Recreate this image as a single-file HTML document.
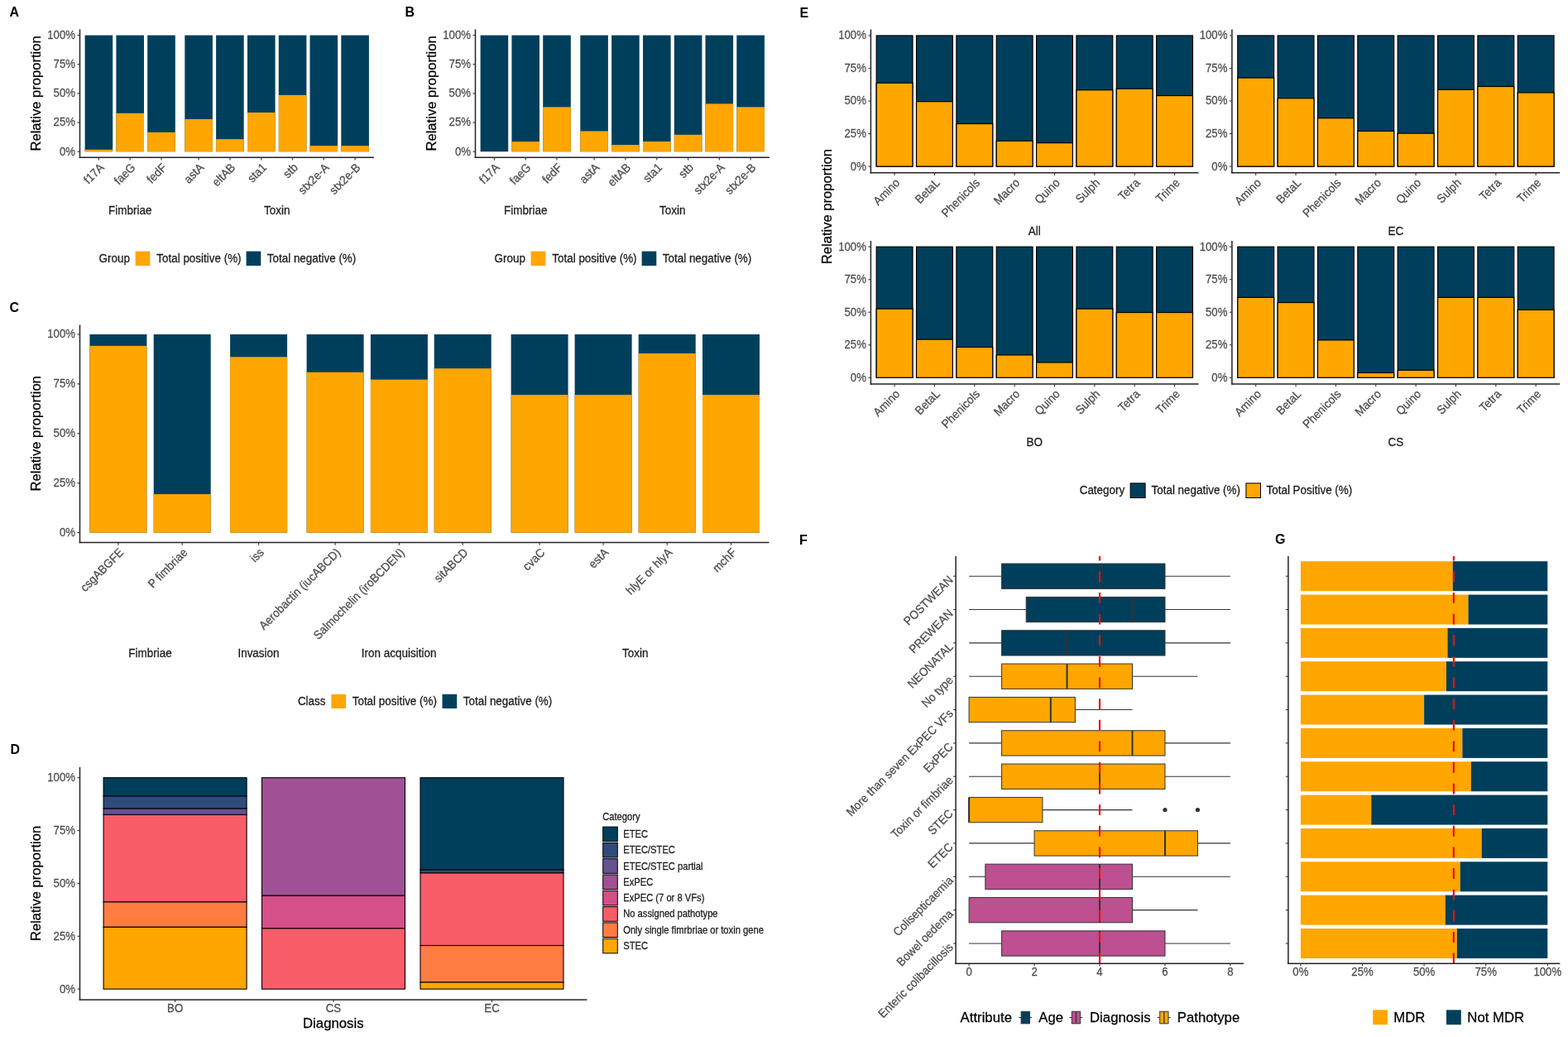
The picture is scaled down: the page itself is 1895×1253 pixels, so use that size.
<!DOCTYPE html>
<html><head><meta charset="utf-8"><title>Figure</title>
<style>
html,body{margin:0;padding:0;background:#fff;}
body{width:1895px;height:1253px;overflow:hidden;}
svg{display:block;font-family:"Liberation Sans", Arial, sans-serif;}
</style></head>
<body>
<svg width="1895" height="1253" viewBox="0 0 1895 1253">
<rect x="0" y="0" width="1895" height="1253" fill="#fff"/>
<text transform="translate(11.4 20.3) scale(1 1.08)" font-size="16" fill="#000" font-weight="bold">A</text>
<rect x="102.6" y="42.6" width="33.6" height="140.6" fill="#003f5c"/>
<rect x="102.6" y="180.81" width="33.6" height="2.39" fill="#ffa600"/>
<rect x="140.4" y="42.6" width="33.6" height="140.6" fill="#003f5c"/>
<rect x="140.4" y="136.8" width="33.6" height="46.4" fill="#ffa600"/>
<rect x="178.2" y="42.6" width="33.6" height="140.6" fill="#003f5c"/>
<rect x="178.2" y="159.86" width="33.6" height="23.34" fill="#ffa600"/>
<rect x="223.3" y="42.6" width="33.6" height="140.6" fill="#003f5c"/>
<rect x="223.3" y="143.97" width="33.6" height="39.23" fill="#ffa600"/>
<rect x="261.1" y="42.6" width="33.6" height="140.6" fill="#003f5c"/>
<rect x="261.1" y="168.16" width="33.6" height="15.04" fill="#ffa600"/>
<rect x="299" y="42.6" width="33.6" height="140.6" fill="#003f5c"/>
<rect x="299" y="135.96" width="33.6" height="47.24" fill="#ffa600"/>
<rect x="336.8" y="42.6" width="33.6" height="140.6" fill="#003f5c"/>
<rect x="336.8" y="114.87" width="33.6" height="68.33" fill="#ffa600"/>
<rect x="374.5" y="42.6" width="33.6" height="140.6" fill="#003f5c"/>
<rect x="374.5" y="176.17" width="33.6" height="7.03" fill="#ffa600"/>
<rect x="412.3" y="42.6" width="33.6" height="140.6" fill="#003f5c"/>
<rect x="412.3" y="176.17" width="33.6" height="7.03" fill="#ffa600"/>
<line x1="96.5" y1="35.4" x2="96.5" y2="191.05" stroke="#222222" stroke-width="1.5" stroke-linecap="butt"/>
<line x1="93.5" y1="183.2" x2="96.5" y2="183.2" stroke="#333" stroke-width="1.1" stroke-linecap="butt"/>
<text transform="translate(91 187.6) scale(1 1.07)" font-size="13.2" fill="#4d4d4d" stroke="#4d4d4d" stroke-width="0.25" text-anchor="end">0%</text>
<line x1="93.5" y1="148.05" x2="96.5" y2="148.05" stroke="#333" stroke-width="1.1" stroke-linecap="butt"/>
<text transform="translate(91 152.45) scale(1 1.07)" font-size="13.2" fill="#4d4d4d" stroke="#4d4d4d" stroke-width="0.25" text-anchor="end">25%</text>
<line x1="93.5" y1="112.9" x2="96.5" y2="112.9" stroke="#333" stroke-width="1.1" stroke-linecap="butt"/>
<text transform="translate(91 117.3) scale(1 1.07)" font-size="13.2" fill="#4d4d4d" stroke="#4d4d4d" stroke-width="0.25" text-anchor="end">50%</text>
<line x1="93.5" y1="77.75" x2="96.5" y2="77.75" stroke="#333" stroke-width="1.1" stroke-linecap="butt"/>
<text transform="translate(91 82.15) scale(1 1.07)" font-size="13.2" fill="#4d4d4d" stroke="#4d4d4d" stroke-width="0.25" text-anchor="end">75%</text>
<line x1="93.5" y1="42.6" x2="96.5" y2="42.6" stroke="#333" stroke-width="1.1" stroke-linecap="butt"/>
<text transform="translate(91 47) scale(1 1.07)" font-size="13.2" fill="#4d4d4d" stroke="#4d4d4d" stroke-width="0.25" text-anchor="end">100%</text>
<line x1="95.75" y1="190.3" x2="451.9" y2="190.3" stroke="#222222" stroke-width="1.5" stroke-linecap="butt"/>
<line x1="119.4" y1="190.3" x2="119.4" y2="193.5" stroke="#333" stroke-width="1.1" stroke-linecap="butt"/>
<text transform="translate(126.65 203.3) rotate(-45) scale(1 1.07)" font-size="13.5" fill="#4d4d4d" stroke="#4d4d4d" stroke-width="0.25" text-anchor="end">f17A</text>
<line x1="157.2" y1="190.3" x2="157.2" y2="193.5" stroke="#333" stroke-width="1.1" stroke-linecap="butt"/>
<text transform="translate(164.45 203.3) rotate(-45) scale(1 1.07)" font-size="13.5" fill="#4d4d4d" stroke="#4d4d4d" stroke-width="0.25" text-anchor="end">faeG</text>
<line x1="195" y1="190.3" x2="195" y2="193.5" stroke="#333" stroke-width="1.1" stroke-linecap="butt"/>
<text transform="translate(202.25 203.3) rotate(-45) scale(1 1.07)" font-size="13.5" fill="#4d4d4d" stroke="#4d4d4d" stroke-width="0.25" text-anchor="end">fedF</text>
<line x1="240.1" y1="190.3" x2="240.1" y2="193.5" stroke="#333" stroke-width="1.1" stroke-linecap="butt"/>
<text transform="translate(247.35 203.3) rotate(-45) scale(1 1.07)" font-size="13.5" fill="#4d4d4d" stroke="#4d4d4d" stroke-width="0.25" text-anchor="end">astA</text>
<line x1="277.9" y1="190.3" x2="277.9" y2="193.5" stroke="#333" stroke-width="1.1" stroke-linecap="butt"/>
<text transform="translate(285.15 203.3) rotate(-45) scale(1 1.07)" font-size="13.5" fill="#4d4d4d" stroke="#4d4d4d" stroke-width="0.25" text-anchor="end">eltAB</text>
<line x1="315.8" y1="190.3" x2="315.8" y2="193.5" stroke="#333" stroke-width="1.1" stroke-linecap="butt"/>
<text transform="translate(323.05 203.3) rotate(-45) scale(1 1.07)" font-size="13.5" fill="#4d4d4d" stroke="#4d4d4d" stroke-width="0.25" text-anchor="end">sta1</text>
<line x1="353.6" y1="190.3" x2="353.6" y2="193.5" stroke="#333" stroke-width="1.1" stroke-linecap="butt"/>
<text transform="translate(360.85 203.3) rotate(-45) scale(1 1.07)" font-size="13.5" fill="#4d4d4d" stroke="#4d4d4d" stroke-width="0.25" text-anchor="end">stb</text>
<line x1="391.3" y1="190.3" x2="391.3" y2="193.5" stroke="#333" stroke-width="1.1" stroke-linecap="butt"/>
<text transform="translate(398.55 203.3) rotate(-45) scale(1 1.07)" font-size="13.5" fill="#4d4d4d" stroke="#4d4d4d" stroke-width="0.25" text-anchor="end">stx2e-A</text>
<line x1="429.1" y1="190.3" x2="429.1" y2="193.5" stroke="#333" stroke-width="1.1" stroke-linecap="butt"/>
<text transform="translate(436.35 203.3) rotate(-45) scale(1 1.07)" font-size="13.5" fill="#4d4d4d" stroke="#4d4d4d" stroke-width="0.25" text-anchor="end">stx2e-B</text>
<text transform="translate(157.2 259.3) scale(1 1.07)" font-size="13.5" fill="#1a1a1a" stroke="#1a1a1a" stroke-width="0.25" text-anchor="middle">Fimbriae</text>
<text transform="translate(334.7 259.3) scale(1 1.07)" font-size="13.5" fill="#1a1a1a" stroke="#1a1a1a" stroke-width="0.25" text-anchor="middle">Toxin</text>
<text transform="translate(49 112.9) rotate(-90)" font-size="16.6" fill="#000" stroke="#000" stroke-width="0.25" text-anchor="middle">Relative proportion</text>
<text transform="translate(119.6 316.9) scale(1 1.07)" font-size="13.45" fill="#1a1a1a" stroke="#1a1a1a" stroke-width="0.25">Group</text>
<rect x="163.6" y="303.6" width="17.7" height="17.5" fill="#ffa600"/>
<text transform="translate(189.3 316.9) scale(1 1.07)" font-size="13.45" fill="#1a1a1a" stroke="#1a1a1a" stroke-width="0.25">Total positive (%)</text>
<rect x="297.6" y="303.6" width="17.7" height="17.5" fill="#003f5c"/>
<text transform="translate(322.8 316.9) scale(1 1.07)" font-size="13.45" fill="#1a1a1a" stroke="#1a1a1a" stroke-width="0.25">Total negative (%)</text>
<text transform="translate(489.4 20.3) scale(1 1.08)" font-size="16" fill="#000" font-weight="bold">B</text>
<rect x="580.6" y="42.6" width="33.6" height="140.6" fill="#003f5c"/>
<rect x="580.6" y="183.2" width="33.6" height="0" fill="#ffa600"/>
<rect x="618.4" y="42.6" width="33.6" height="140.6" fill="#003f5c"/>
<rect x="618.4" y="171.11" width="33.6" height="12.09" fill="#ffa600"/>
<rect x="656.2" y="42.6" width="33.6" height="140.6" fill="#003f5c"/>
<rect x="656.2" y="129.35" width="33.6" height="53.85" fill="#ffa600"/>
<rect x="701.3" y="42.6" width="33.6" height="140.6" fill="#003f5c"/>
<rect x="701.3" y="158.45" width="33.6" height="24.75" fill="#ffa600"/>
<rect x="739.1" y="42.6" width="33.6" height="140.6" fill="#003f5c"/>
<rect x="739.1" y="175.05" width="33.6" height="8.15" fill="#ffa600"/>
<rect x="777" y="42.6" width="33.6" height="140.6" fill="#003f5c"/>
<rect x="777" y="170.97" width="33.6" height="12.23" fill="#ffa600"/>
<rect x="814.8" y="42.6" width="33.6" height="140.6" fill="#003f5c"/>
<rect x="814.8" y="162.81" width="33.6" height="20.39" fill="#ffa600"/>
<rect x="852.5" y="42.6" width="33.6" height="140.6" fill="#003f5c"/>
<rect x="852.5" y="125.41" width="33.6" height="57.79" fill="#ffa600"/>
<rect x="890.3" y="42.6" width="33.6" height="140.6" fill="#003f5c"/>
<rect x="890.3" y="129.35" width="33.6" height="53.85" fill="#ffa600"/>
<line x1="574.5" y1="35.4" x2="574.5" y2="191.05" stroke="#222222" stroke-width="1.5" stroke-linecap="butt"/>
<line x1="571.5" y1="183.2" x2="574.5" y2="183.2" stroke="#333" stroke-width="1.1" stroke-linecap="butt"/>
<text transform="translate(569 187.6) scale(1 1.07)" font-size="13.2" fill="#4d4d4d" stroke="#4d4d4d" stroke-width="0.25" text-anchor="end">0%</text>
<line x1="571.5" y1="148.05" x2="574.5" y2="148.05" stroke="#333" stroke-width="1.1" stroke-linecap="butt"/>
<text transform="translate(569 152.45) scale(1 1.07)" font-size="13.2" fill="#4d4d4d" stroke="#4d4d4d" stroke-width="0.25" text-anchor="end">25%</text>
<line x1="571.5" y1="112.9" x2="574.5" y2="112.9" stroke="#333" stroke-width="1.1" stroke-linecap="butt"/>
<text transform="translate(569 117.3) scale(1 1.07)" font-size="13.2" fill="#4d4d4d" stroke="#4d4d4d" stroke-width="0.25" text-anchor="end">50%</text>
<line x1="571.5" y1="77.75" x2="574.5" y2="77.75" stroke="#333" stroke-width="1.1" stroke-linecap="butt"/>
<text transform="translate(569 82.15) scale(1 1.07)" font-size="13.2" fill="#4d4d4d" stroke="#4d4d4d" stroke-width="0.25" text-anchor="end">75%</text>
<line x1="571.5" y1="42.6" x2="574.5" y2="42.6" stroke="#333" stroke-width="1.1" stroke-linecap="butt"/>
<text transform="translate(569 47) scale(1 1.07)" font-size="13.2" fill="#4d4d4d" stroke="#4d4d4d" stroke-width="0.25" text-anchor="end">100%</text>
<line x1="573.75" y1="190.3" x2="929.9" y2="190.3" stroke="#222222" stroke-width="1.5" stroke-linecap="butt"/>
<line x1="597.4" y1="190.3" x2="597.4" y2="193.5" stroke="#333" stroke-width="1.1" stroke-linecap="butt"/>
<text transform="translate(604.65 203.3) rotate(-45) scale(1 1.07)" font-size="13.5" fill="#4d4d4d" stroke="#4d4d4d" stroke-width="0.25" text-anchor="end">f17A</text>
<line x1="635.2" y1="190.3" x2="635.2" y2="193.5" stroke="#333" stroke-width="1.1" stroke-linecap="butt"/>
<text transform="translate(642.45 203.3) rotate(-45) scale(1 1.07)" font-size="13.5" fill="#4d4d4d" stroke="#4d4d4d" stroke-width="0.25" text-anchor="end">faeG</text>
<line x1="673" y1="190.3" x2="673" y2="193.5" stroke="#333" stroke-width="1.1" stroke-linecap="butt"/>
<text transform="translate(680.25 203.3) rotate(-45) scale(1 1.07)" font-size="13.5" fill="#4d4d4d" stroke="#4d4d4d" stroke-width="0.25" text-anchor="end">fedF</text>
<line x1="718.1" y1="190.3" x2="718.1" y2="193.5" stroke="#333" stroke-width="1.1" stroke-linecap="butt"/>
<text transform="translate(725.35 203.3) rotate(-45) scale(1 1.07)" font-size="13.5" fill="#4d4d4d" stroke="#4d4d4d" stroke-width="0.25" text-anchor="end">astA</text>
<line x1="755.9" y1="190.3" x2="755.9" y2="193.5" stroke="#333" stroke-width="1.1" stroke-linecap="butt"/>
<text transform="translate(763.15 203.3) rotate(-45) scale(1 1.07)" font-size="13.5" fill="#4d4d4d" stroke="#4d4d4d" stroke-width="0.25" text-anchor="end">eltAB</text>
<line x1="793.8" y1="190.3" x2="793.8" y2="193.5" stroke="#333" stroke-width="1.1" stroke-linecap="butt"/>
<text transform="translate(801.05 203.3) rotate(-45) scale(1 1.07)" font-size="13.5" fill="#4d4d4d" stroke="#4d4d4d" stroke-width="0.25" text-anchor="end">sta1</text>
<line x1="831.6" y1="190.3" x2="831.6" y2="193.5" stroke="#333" stroke-width="1.1" stroke-linecap="butt"/>
<text transform="translate(838.85 203.3) rotate(-45) scale(1 1.07)" font-size="13.5" fill="#4d4d4d" stroke="#4d4d4d" stroke-width="0.25" text-anchor="end">stb</text>
<line x1="869.3" y1="190.3" x2="869.3" y2="193.5" stroke="#333" stroke-width="1.1" stroke-linecap="butt"/>
<text transform="translate(876.55 203.3) rotate(-45) scale(1 1.07)" font-size="13.5" fill="#4d4d4d" stroke="#4d4d4d" stroke-width="0.25" text-anchor="end">stx2e-A</text>
<line x1="907.1" y1="190.3" x2="907.1" y2="193.5" stroke="#333" stroke-width="1.1" stroke-linecap="butt"/>
<text transform="translate(914.35 203.3) rotate(-45) scale(1 1.07)" font-size="13.5" fill="#4d4d4d" stroke="#4d4d4d" stroke-width="0.25" text-anchor="end">stx2e-B</text>
<text transform="translate(635.2 259.3) scale(1 1.07)" font-size="13.5" fill="#1a1a1a" stroke="#1a1a1a" stroke-width="0.25" text-anchor="middle">Fimbriae</text>
<text transform="translate(812.7 259.3) scale(1 1.07)" font-size="13.5" fill="#1a1a1a" stroke="#1a1a1a" stroke-width="0.25" text-anchor="middle">Toxin</text>
<text transform="translate(527 112.9) rotate(-90)" font-size="16.6" fill="#000" stroke="#000" stroke-width="0.25" text-anchor="middle">Relative proportion</text>
<text transform="translate(597.6 316.9) scale(1 1.07)" font-size="13.45" fill="#1a1a1a" stroke="#1a1a1a" stroke-width="0.25">Group</text>
<rect x="641.6" y="303.6" width="17.7" height="17.5" fill="#ffa600"/>
<text transform="translate(667.3 316.9) scale(1 1.07)" font-size="13.45" fill="#1a1a1a" stroke="#1a1a1a" stroke-width="0.25">Total positive (%)</text>
<rect x="775.6" y="303.6" width="17.7" height="17.5" fill="#003f5c"/>
<text transform="translate(800.8 316.9) scale(1 1.07)" font-size="13.45" fill="#1a1a1a" stroke="#1a1a1a" stroke-width="0.25">Total negative (%)</text>
<text transform="translate(11.6 377) scale(1 1.08)" font-size="16" fill="#000" font-weight="bold">C</text>
<rect x="108.4" y="404" width="69" height="239.6" fill="#003f5c"/>
<rect x="108.4" y="417.9" width="69" height="225.7" fill="#ffa600"/>
<rect x="185.7" y="404" width="69" height="239.6" fill="#003f5c"/>
<rect x="185.7" y="597.12" width="69" height="46.48" fill="#ffa600"/>
<rect x="278.1" y="404" width="69" height="239.6" fill="#003f5c"/>
<rect x="278.1" y="431.31" width="69" height="212.29" fill="#ffa600"/>
<rect x="370.6" y="404" width="69" height="239.6" fill="#003f5c"/>
<rect x="370.6" y="449.76" width="69" height="193.84" fill="#ffa600"/>
<rect x="447.9" y="404" width="69" height="239.6" fill="#003f5c"/>
<rect x="447.9" y="458.63" width="69" height="184.97" fill="#ffa600"/>
<rect x="524.7" y="404" width="69" height="239.6" fill="#003f5c"/>
<rect x="524.7" y="445.21" width="69" height="198.39" fill="#ffa600"/>
<rect x="617.6" y="404" width="69" height="239.6" fill="#003f5c"/>
<rect x="617.6" y="477.08" width="69" height="166.52" fill="#ffa600"/>
<rect x="694.6" y="404" width="69" height="239.6" fill="#003f5c"/>
<rect x="694.6" y="477.08" width="69" height="166.52" fill="#ffa600"/>
<rect x="771.7" y="404" width="69" height="239.6" fill="#003f5c"/>
<rect x="771.7" y="427" width="69" height="216.6" fill="#ffa600"/>
<rect x="849" y="404" width="69" height="239.6" fill="#003f5c"/>
<rect x="849" y="477.08" width="69" height="166.52" fill="#ffa600"/>
<line x1="96.5" y1="392.6" x2="96.5" y2="656.25" stroke="#222222" stroke-width="1.5" stroke-linecap="butt"/>
<line x1="93.5" y1="643.6" x2="96.5" y2="643.6" stroke="#333" stroke-width="1.1" stroke-linecap="butt"/>
<text transform="translate(91 648) scale(1 1.07)" font-size="13.2" fill="#4d4d4d" stroke="#4d4d4d" stroke-width="0.25" text-anchor="end">0%</text>
<line x1="93.5" y1="583.7" x2="96.5" y2="583.7" stroke="#333" stroke-width="1.1" stroke-linecap="butt"/>
<text transform="translate(91 588.1) scale(1 1.07)" font-size="13.2" fill="#4d4d4d" stroke="#4d4d4d" stroke-width="0.25" text-anchor="end">25%</text>
<line x1="93.5" y1="523.8" x2="96.5" y2="523.8" stroke="#333" stroke-width="1.1" stroke-linecap="butt"/>
<text transform="translate(91 528.2) scale(1 1.07)" font-size="13.2" fill="#4d4d4d" stroke="#4d4d4d" stroke-width="0.25" text-anchor="end">50%</text>
<line x1="93.5" y1="463.9" x2="96.5" y2="463.9" stroke="#333" stroke-width="1.1" stroke-linecap="butt"/>
<text transform="translate(91 468.3) scale(1 1.07)" font-size="13.2" fill="#4d4d4d" stroke="#4d4d4d" stroke-width="0.25" text-anchor="end">75%</text>
<line x1="93.5" y1="404" x2="96.5" y2="404" stroke="#333" stroke-width="1.1" stroke-linecap="butt"/>
<text transform="translate(91 408.4) scale(1 1.07)" font-size="13.2" fill="#4d4d4d" stroke="#4d4d4d" stroke-width="0.25" text-anchor="end">100%</text>
<line x1="95.75" y1="655.5" x2="929.5" y2="655.5" stroke="#222222" stroke-width="1.5" stroke-linecap="butt"/>
<line x1="142.9" y1="655.5" x2="142.9" y2="658.7" stroke="#333" stroke-width="1.1" stroke-linecap="butt"/>
<text transform="translate(150.15 668.5) rotate(-45) scale(1 1.07)" font-size="13.5" fill="#4d4d4d" stroke="#4d4d4d" stroke-width="0.25" text-anchor="end">csgABGFE</text>
<line x1="220.2" y1="655.5" x2="220.2" y2="658.7" stroke="#333" stroke-width="1.1" stroke-linecap="butt"/>
<text transform="translate(227.45 668.5) rotate(-45) scale(1 1.07)" font-size="13.5" fill="#4d4d4d" stroke="#4d4d4d" stroke-width="0.25" text-anchor="end">P fimbriae</text>
<line x1="312.6" y1="655.5" x2="312.6" y2="658.7" stroke="#333" stroke-width="1.1" stroke-linecap="butt"/>
<text transform="translate(319.85 668.5) rotate(-45) scale(1 1.07)" font-size="13.5" fill="#4d4d4d" stroke="#4d4d4d" stroke-width="0.25" text-anchor="end">iss</text>
<line x1="405.1" y1="655.5" x2="405.1" y2="658.7" stroke="#333" stroke-width="1.1" stroke-linecap="butt"/>
<text transform="translate(412.35 668.5) rotate(-45) scale(1 1.07)" font-size="13.5" fill="#4d4d4d" stroke="#4d4d4d" stroke-width="0.25" text-anchor="end">Aerobactin (iucABCD)</text>
<line x1="482.4" y1="655.5" x2="482.4" y2="658.7" stroke="#333" stroke-width="1.1" stroke-linecap="butt"/>
<text transform="translate(489.65 668.5) rotate(-45) scale(1 1.07)" font-size="13.5" fill="#4d4d4d" stroke="#4d4d4d" stroke-width="0.25" text-anchor="end">Salmochelin (iroBCDEN)</text>
<line x1="559.2" y1="655.5" x2="559.2" y2="658.7" stroke="#333" stroke-width="1.1" stroke-linecap="butt"/>
<text transform="translate(566.45 668.5) rotate(-45) scale(1 1.07)" font-size="13.5" fill="#4d4d4d" stroke="#4d4d4d" stroke-width="0.25" text-anchor="end">sitABCD</text>
<line x1="652.1" y1="655.5" x2="652.1" y2="658.7" stroke="#333" stroke-width="1.1" stroke-linecap="butt"/>
<text transform="translate(659.35 668.5) rotate(-45) scale(1 1.07)" font-size="13.5" fill="#4d4d4d" stroke="#4d4d4d" stroke-width="0.25" text-anchor="end">cvaC</text>
<line x1="729.1" y1="655.5" x2="729.1" y2="658.7" stroke="#333" stroke-width="1.1" stroke-linecap="butt"/>
<text transform="translate(736.35 668.5) rotate(-45) scale(1 1.07)" font-size="13.5" fill="#4d4d4d" stroke="#4d4d4d" stroke-width="0.25" text-anchor="end">estA</text>
<line x1="806.2" y1="655.5" x2="806.2" y2="658.7" stroke="#333" stroke-width="1.1" stroke-linecap="butt"/>
<text transform="translate(813.45 668.5) rotate(-45) scale(1 1.07)" font-size="13.5" fill="#4d4d4d" stroke="#4d4d4d" stroke-width="0.25" text-anchor="end">hlyE or hlyA</text>
<line x1="883.5" y1="655.5" x2="883.5" y2="658.7" stroke="#333" stroke-width="1.1" stroke-linecap="butt"/>
<text transform="translate(890.75 668.5) rotate(-45) scale(1 1.07)" font-size="13.5" fill="#4d4d4d" stroke="#4d4d4d" stroke-width="0.25" text-anchor="end">mchF</text>
<text transform="translate(181.5 794) scale(1 1.07)" font-size="13.5" fill="#1a1a1a" stroke="#1a1a1a" stroke-width="0.25" text-anchor="middle">Fimbriae</text>
<text transform="translate(312.5 794) scale(1 1.07)" font-size="13.5" fill="#1a1a1a" stroke="#1a1a1a" stroke-width="0.25" text-anchor="middle">Invasion</text>
<text transform="translate(482.2 794) scale(1 1.07)" font-size="13.5" fill="#1a1a1a" stroke="#1a1a1a" stroke-width="0.25" text-anchor="middle">Iron acquisition</text>
<text transform="translate(767.7 794) scale(1 1.07)" font-size="13.5" fill="#1a1a1a" stroke="#1a1a1a" stroke-width="0.25" text-anchor="middle">Toxin</text>
<text transform="translate(49 523.8) rotate(-90)" font-size="16.6" fill="#000" stroke="#000" stroke-width="0.25" text-anchor="middle">Relative proportion</text>
<text transform="translate(359.9 852.3) scale(1 1.07)" font-size="13.45" fill="#1a1a1a" stroke="#1a1a1a" stroke-width="0.25">Class</text>
<rect x="400.4" y="838.8" width="17.7" height="17.2" fill="#ffa600"/>
<text transform="translate(425.7 852.3) scale(1 1.07)" font-size="13.45" fill="#1a1a1a" stroke="#1a1a1a" stroke-width="0.25">Total positive (%)</text>
<rect x="534.5" y="838.8" width="17.7" height="17.2" fill="#003f5c"/>
<text transform="translate(559.8 852.3) scale(1 1.07)" font-size="13.45" fill="#1a1a1a" stroke="#1a1a1a" stroke-width="0.25">Total negative (%)</text>
<text transform="translate(12.4 911.3) scale(1 1.08)" font-size="16" fill="#000" font-weight="bold">D</text>
<rect x="125.1" y="939.7" width="173" height="22.22" fill="#003f5c" stroke="#000" stroke-width="1.1"/>
<rect x="125.1" y="961.92" width="173" height="15.2" fill="#2f4b7c" stroke="#000" stroke-width="1.1"/>
<rect x="125.1" y="977.12" width="173" height="7.41" fill="#665191" stroke="#000" stroke-width="1.1"/>
<rect x="125.1" y="984.39" width="173" height="105.48" fill="#f95d6a" stroke="#000" stroke-width="1.1"/>
<rect x="125.1" y="1089.88" width="173" height="30.39" fill="#ff7c43" stroke="#000" stroke-width="1.1"/>
<rect x="125.1" y="1120.27" width="173" height="74.83" fill="#ffa600" stroke="#000" stroke-width="1.1"/>
<line x1="211.6" y1="1208" x2="211.6" y2="1211" stroke="#333" stroke-width="1.1" stroke-linecap="butt"/>
<text transform="translate(211.6 1223.3) scale(1 1.07)" font-size="13.2" fill="#4d4d4d" stroke="#4d4d4d" stroke-width="0.25" text-anchor="middle">BO</text>
<rect x="316.5" y="939.7" width="173" height="142.51" fill="#a05195" stroke="#000" stroke-width="1.1"/>
<rect x="316.5" y="1082.21" width="173" height="39.59" fill="#d45087" stroke="#000" stroke-width="1.1"/>
<rect x="316.5" y="1121.8" width="173" height="73.3" fill="#f95d6a" stroke="#000" stroke-width="1.1"/>
<line x1="403" y1="1208" x2="403" y2="1211" stroke="#333" stroke-width="1.1" stroke-linecap="butt"/>
<text transform="translate(403 1223.3) scale(1 1.07)" font-size="13.2" fill="#4d4d4d" stroke="#4d4d4d" stroke-width="0.25" text-anchor="middle">CS</text>
<rect x="508" y="939.7" width="173" height="111.35" fill="#003f5c" stroke="#000" stroke-width="1.1"/>
<rect x="508" y="1051.05" width="173" height="3.83" fill="#2f4b7c" stroke="#000" stroke-width="1.1"/>
<rect x="508" y="1054.89" width="173" height="87.6" fill="#f95d6a" stroke="#000" stroke-width="1.1"/>
<rect x="508" y="1142.49" width="173" height="44.44" fill="#ff7c43" stroke="#000" stroke-width="1.1"/>
<rect x="508" y="1186.93" width="173" height="8.17" fill="#ffa600" stroke="#000" stroke-width="1.1"/>
<line x1="594.5" y1="1208" x2="594.5" y2="1211" stroke="#333" stroke-width="1.1" stroke-linecap="butt"/>
<text transform="translate(594.5 1223.3) scale(1 1.07)" font-size="13.2" fill="#4d4d4d" stroke="#4d4d4d" stroke-width="0.25" text-anchor="middle">EC</text>
<line x1="96.5" y1="927.1" x2="96.5" y2="1208.75" stroke="#222222" stroke-width="1.5" stroke-linecap="butt"/>
<line x1="93.5" y1="1195.1" x2="96.5" y2="1195.1" stroke="#333" stroke-width="1.1" stroke-linecap="butt"/>
<text transform="translate(91 1199.5) scale(1 1.07)" font-size="13.2" fill="#4d4d4d" stroke="#4d4d4d" stroke-width="0.25" text-anchor="end">0%</text>
<line x1="93.5" y1="1131.25" x2="96.5" y2="1131.25" stroke="#333" stroke-width="1.1" stroke-linecap="butt"/>
<text transform="translate(91 1135.65) scale(1 1.07)" font-size="13.2" fill="#4d4d4d" stroke="#4d4d4d" stroke-width="0.25" text-anchor="end">25%</text>
<line x1="93.5" y1="1067.4" x2="96.5" y2="1067.4" stroke="#333" stroke-width="1.1" stroke-linecap="butt"/>
<text transform="translate(91 1071.8) scale(1 1.07)" font-size="13.2" fill="#4d4d4d" stroke="#4d4d4d" stroke-width="0.25" text-anchor="end">50%</text>
<line x1="93.5" y1="1003.55" x2="96.5" y2="1003.55" stroke="#333" stroke-width="1.1" stroke-linecap="butt"/>
<text transform="translate(91 1007.95) scale(1 1.07)" font-size="13.2" fill="#4d4d4d" stroke="#4d4d4d" stroke-width="0.25" text-anchor="end">75%</text>
<line x1="93.5" y1="939.7" x2="96.5" y2="939.7" stroke="#333" stroke-width="1.1" stroke-linecap="butt"/>
<text transform="translate(91 944.1) scale(1 1.07)" font-size="13.2" fill="#4d4d4d" stroke="#4d4d4d" stroke-width="0.25" text-anchor="end">100%</text>
<line x1="95.75" y1="1208" x2="709.3" y2="1208" stroke="#222222" stroke-width="1.5" stroke-linecap="butt"/>
<text transform="translate(49 1067.4) rotate(-90)" font-size="16.6" fill="#000" stroke="#000" stroke-width="0.25" text-anchor="middle">Relative proportion</text>
<text transform="translate(402.8 1241.6) scale(1 1.03)" font-size="16.75" fill="#000" stroke="#000" stroke-width="0.25" text-anchor="middle">Diagnosis</text>
<text transform="translate(728.2 990.8) scale(1 1.07)" font-size="11.2" fill="#1a1a1a" stroke="#1a1a1a" stroke-width="0.25">Category</text>
<rect x="728.7" y="999.1" width="17.6" height="17.6" fill="#003f5c" stroke="#000" stroke-width="1"/>
<text transform="translate(753.2 1011.9) scale(1 1.07)" font-size="11.2" fill="#1a1a1a" stroke="#1a1a1a" stroke-width="0.25">ETEC</text>
<rect x="728.7" y="1018.4" width="17.6" height="17.6" fill="#2f4b7c" stroke="#000" stroke-width="1"/>
<text transform="translate(753.2 1031.2) scale(1 1.07)" font-size="11.2" fill="#1a1a1a" stroke="#1a1a1a" stroke-width="0.25">ETEC/STEC</text>
<rect x="728.7" y="1037.7" width="17.6" height="17.6" fill="#665191" stroke="#000" stroke-width="1"/>
<text transform="translate(753.2 1050.5) scale(1 1.07)" font-size="11.2" fill="#1a1a1a" stroke="#1a1a1a" stroke-width="0.25">ETEC/STEC partial</text>
<rect x="728.7" y="1057" width="17.6" height="17.6" fill="#a05195" stroke="#000" stroke-width="1"/>
<text transform="translate(753.2 1069.8) scale(1 1.07)" font-size="11.2" fill="#1a1a1a" stroke="#1a1a1a" stroke-width="0.25">ExPEC</text>
<rect x="728.7" y="1076.3" width="17.6" height="17.6" fill="#d45087" stroke="#000" stroke-width="1"/>
<text transform="translate(753.2 1089.1) scale(1 1.07)" font-size="11.2" fill="#1a1a1a" stroke="#1a1a1a" stroke-width="0.25">ExPEC (7 or 8 VFs)</text>
<rect x="728.7" y="1095.6" width="17.6" height="17.6" fill="#f95d6a" stroke="#000" stroke-width="1"/>
<text transform="translate(753.2 1108.4) scale(1 1.07)" font-size="11.2" fill="#1a1a1a" stroke="#1a1a1a" stroke-width="0.25">No assigned pathotype</text>
<rect x="728.7" y="1114.9" width="17.6" height="17.6" fill="#ff7c43" stroke="#000" stroke-width="1"/>
<text transform="translate(753.2 1127.7) scale(1 1.07)" font-size="11.2" fill="#1a1a1a" stroke="#1a1a1a" stroke-width="0.25">Only single fimrbriae or toxin gene</text>
<rect x="728.7" y="1134.2" width="17.6" height="17.6" fill="#ffa600" stroke="#000" stroke-width="1"/>
<text transform="translate(753.2 1147) scale(1 1.07)" font-size="11.2" fill="#1a1a1a" stroke="#1a1a1a" stroke-width="0.25">STEC</text>
<text transform="translate(966.6 20.7) scale(1 1.08)" font-size="16" fill="#000" font-weight="bold">E</text>
<rect x="1059.2" y="43" width="43.8" height="158.1" fill="#003f5c" stroke="#000" stroke-width="1.2"/>
<rect x="1059.2" y="100.23" width="43.8" height="100.87" fill="#ffa600" stroke="#000" stroke-width="1.2"/>
<rect x="1107.55" y="43" width="43.8" height="158.1" fill="#003f5c" stroke="#000" stroke-width="1.2"/>
<rect x="1107.55" y="122.68" width="43.8" height="78.42" fill="#ffa600" stroke="#000" stroke-width="1.2"/>
<rect x="1155.9" y="43" width="43.8" height="158.1" fill="#003f5c" stroke="#000" stroke-width="1.2"/>
<rect x="1155.9" y="149.56" width="43.8" height="51.54" fill="#ffa600" stroke="#000" stroke-width="1.2"/>
<rect x="1204.25" y="43" width="43.8" height="158.1" fill="#003f5c" stroke="#000" stroke-width="1.2"/>
<rect x="1204.25" y="170.27" width="43.8" height="30.83" fill="#ffa600" stroke="#000" stroke-width="1.2"/>
<rect x="1252.6" y="43" width="43.8" height="158.1" fill="#003f5c" stroke="#000" stroke-width="1.2"/>
<rect x="1252.6" y="172.64" width="43.8" height="28.46" fill="#ffa600" stroke="#000" stroke-width="1.2"/>
<rect x="1300.95" y="43" width="43.8" height="158.1" fill="#003f5c" stroke="#000" stroke-width="1.2"/>
<rect x="1300.95" y="108.77" width="43.8" height="92.33" fill="#ffa600" stroke="#000" stroke-width="1.2"/>
<rect x="1349.3" y="43" width="43.8" height="158.1" fill="#003f5c" stroke="#000" stroke-width="1.2"/>
<rect x="1349.3" y="107.19" width="43.8" height="93.91" fill="#ffa600" stroke="#000" stroke-width="1.2"/>
<rect x="1397.65" y="43" width="43.8" height="158.1" fill="#003f5c" stroke="#000" stroke-width="1.2"/>
<rect x="1397.65" y="115.57" width="43.8" height="85.53" fill="#ffa600" stroke="#000" stroke-width="1.2"/>
<line x1="1052.4" y1="35.6" x2="1052.4" y2="209.55" stroke="#222222" stroke-width="1.5" stroke-linecap="butt"/>
<line x1="1049.4" y1="201.1" x2="1052.4" y2="201.1" stroke="#333" stroke-width="1.1" stroke-linecap="butt"/>
<text transform="translate(1046.9 205.5) scale(1 1.07)" font-size="13.2" fill="#4d4d4d" stroke="#4d4d4d" stroke-width="0.25" text-anchor="end">0%</text>
<line x1="1049.4" y1="161.57" x2="1052.4" y2="161.57" stroke="#333" stroke-width="1.1" stroke-linecap="butt"/>
<text transform="translate(1046.9 165.97) scale(1 1.07)" font-size="13.2" fill="#4d4d4d" stroke="#4d4d4d" stroke-width="0.25" text-anchor="end">25%</text>
<line x1="1049.4" y1="122.05" x2="1052.4" y2="122.05" stroke="#333" stroke-width="1.1" stroke-linecap="butt"/>
<text transform="translate(1046.9 126.45) scale(1 1.07)" font-size="13.2" fill="#4d4d4d" stroke="#4d4d4d" stroke-width="0.25" text-anchor="end">50%</text>
<line x1="1049.4" y1="82.53" x2="1052.4" y2="82.53" stroke="#333" stroke-width="1.1" stroke-linecap="butt"/>
<text transform="translate(1046.9 86.93) scale(1 1.07)" font-size="13.2" fill="#4d4d4d" stroke="#4d4d4d" stroke-width="0.25" text-anchor="end">75%</text>
<line x1="1049.4" y1="43" x2="1052.4" y2="43" stroke="#333" stroke-width="1.1" stroke-linecap="butt"/>
<text transform="translate(1046.9 47.4) scale(1 1.07)" font-size="13.2" fill="#4d4d4d" stroke="#4d4d4d" stroke-width="0.25" text-anchor="end">100%</text>
<line x1="1051.65" y1="208.8" x2="1448.5" y2="208.8" stroke="#222222" stroke-width="1.5" stroke-linecap="butt"/>
<line x1="1081.1" y1="208.8" x2="1081.1" y2="212" stroke="#333" stroke-width="1.1" stroke-linecap="butt"/>
<text transform="translate(1088.35 221.8) rotate(-45) scale(1 1.07)" font-size="13.5" fill="#4d4d4d" stroke="#4d4d4d" stroke-width="0.25" text-anchor="end">Amino</text>
<line x1="1129.45" y1="208.8" x2="1129.45" y2="212" stroke="#333" stroke-width="1.1" stroke-linecap="butt"/>
<text transform="translate(1136.7 221.8) rotate(-45) scale(1 1.07)" font-size="13.5" fill="#4d4d4d" stroke="#4d4d4d" stroke-width="0.25" text-anchor="end">BetaL</text>
<line x1="1177.8" y1="208.8" x2="1177.8" y2="212" stroke="#333" stroke-width="1.1" stroke-linecap="butt"/>
<text transform="translate(1185.05 221.8) rotate(-45) scale(1 1.07)" font-size="13.5" fill="#4d4d4d" stroke="#4d4d4d" stroke-width="0.25" text-anchor="end">Phenicols</text>
<line x1="1226.15" y1="208.8" x2="1226.15" y2="212" stroke="#333" stroke-width="1.1" stroke-linecap="butt"/>
<text transform="translate(1233.4 221.8) rotate(-45) scale(1 1.07)" font-size="13.5" fill="#4d4d4d" stroke="#4d4d4d" stroke-width="0.25" text-anchor="end">Macro</text>
<line x1="1274.5" y1="208.8" x2="1274.5" y2="212" stroke="#333" stroke-width="1.1" stroke-linecap="butt"/>
<text transform="translate(1281.75 221.8) rotate(-45) scale(1 1.07)" font-size="13.5" fill="#4d4d4d" stroke="#4d4d4d" stroke-width="0.25" text-anchor="end">Quino</text>
<line x1="1322.85" y1="208.8" x2="1322.85" y2="212" stroke="#333" stroke-width="1.1" stroke-linecap="butt"/>
<text transform="translate(1330.1 221.8) rotate(-45) scale(1 1.07)" font-size="13.5" fill="#4d4d4d" stroke="#4d4d4d" stroke-width="0.25" text-anchor="end">Sulph</text>
<line x1="1371.2" y1="208.8" x2="1371.2" y2="212" stroke="#333" stroke-width="1.1" stroke-linecap="butt"/>
<text transform="translate(1378.45 221.8) rotate(-45) scale(1 1.07)" font-size="13.5" fill="#4d4d4d" stroke="#4d4d4d" stroke-width="0.25" text-anchor="end">Tetra</text>
<line x1="1419.55" y1="208.8" x2="1419.55" y2="212" stroke="#333" stroke-width="1.1" stroke-linecap="butt"/>
<text transform="translate(1426.8 221.8) rotate(-45) scale(1 1.07)" font-size="13.5" fill="#4d4d4d" stroke="#4d4d4d" stroke-width="0.25" text-anchor="end">Trime</text>
<text transform="translate(1250.33 283.8) scale(1 1.07)" font-size="13.5" fill="#1a1a1a" stroke="#1a1a1a" stroke-width="0.25" text-anchor="middle">All</text>
<rect x="1495.8" y="43" width="43.8" height="158.1" fill="#003f5c" stroke="#000" stroke-width="1.2"/>
<rect x="1495.8" y="94.07" width="43.8" height="107.03" fill="#ffa600" stroke="#000" stroke-width="1.2"/>
<rect x="1544.15" y="43" width="43.8" height="158.1" fill="#003f5c" stroke="#000" stroke-width="1.2"/>
<rect x="1544.15" y="118.73" width="43.8" height="82.37" fill="#ffa600" stroke="#000" stroke-width="1.2"/>
<rect x="1592.5" y="43" width="43.8" height="158.1" fill="#003f5c" stroke="#000" stroke-width="1.2"/>
<rect x="1592.5" y="142.76" width="43.8" height="58.34" fill="#ffa600" stroke="#000" stroke-width="1.2"/>
<rect x="1640.85" y="43" width="43.8" height="158.1" fill="#003f5c" stroke="#000" stroke-width="1.2"/>
<rect x="1640.85" y="158.41" width="43.8" height="42.69" fill="#ffa600" stroke="#000" stroke-width="1.2"/>
<rect x="1689.2" y="43" width="43.8" height="158.1" fill="#003f5c" stroke="#000" stroke-width="1.2"/>
<rect x="1689.2" y="161.1" width="43.8" height="40" fill="#ffa600" stroke="#000" stroke-width="1.2"/>
<rect x="1737.55" y="43" width="43.8" height="158.1" fill="#003f5c" stroke="#000" stroke-width="1.2"/>
<rect x="1737.55" y="108.3" width="43.8" height="92.8" fill="#ffa600" stroke="#000" stroke-width="1.2"/>
<rect x="1785.9" y="43" width="43.8" height="158.1" fill="#003f5c" stroke="#000" stroke-width="1.2"/>
<rect x="1785.9" y="104.5" width="43.8" height="96.6" fill="#ffa600" stroke="#000" stroke-width="1.2"/>
<rect x="1834.25" y="43" width="43.8" height="158.1" fill="#003f5c" stroke="#000" stroke-width="1.2"/>
<rect x="1834.25" y="111.93" width="43.8" height="89.17" fill="#ffa600" stroke="#000" stroke-width="1.2"/>
<line x1="1488.9" y1="35.6" x2="1488.9" y2="209.55" stroke="#222222" stroke-width="1.5" stroke-linecap="butt"/>
<line x1="1485.9" y1="201.1" x2="1488.9" y2="201.1" stroke="#333" stroke-width="1.1" stroke-linecap="butt"/>
<text transform="translate(1483.4 205.5) scale(1 1.07)" font-size="13.2" fill="#4d4d4d" stroke="#4d4d4d" stroke-width="0.25" text-anchor="end">0%</text>
<line x1="1485.9" y1="161.57" x2="1488.9" y2="161.57" stroke="#333" stroke-width="1.1" stroke-linecap="butt"/>
<text transform="translate(1483.4 165.97) scale(1 1.07)" font-size="13.2" fill="#4d4d4d" stroke="#4d4d4d" stroke-width="0.25" text-anchor="end">25%</text>
<line x1="1485.9" y1="122.05" x2="1488.9" y2="122.05" stroke="#333" stroke-width="1.1" stroke-linecap="butt"/>
<text transform="translate(1483.4 126.45) scale(1 1.07)" font-size="13.2" fill="#4d4d4d" stroke="#4d4d4d" stroke-width="0.25" text-anchor="end">50%</text>
<line x1="1485.9" y1="82.53" x2="1488.9" y2="82.53" stroke="#333" stroke-width="1.1" stroke-linecap="butt"/>
<text transform="translate(1483.4 86.93) scale(1 1.07)" font-size="13.2" fill="#4d4d4d" stroke="#4d4d4d" stroke-width="0.25" text-anchor="end">75%</text>
<line x1="1485.9" y1="43" x2="1488.9" y2="43" stroke="#333" stroke-width="1.1" stroke-linecap="butt"/>
<text transform="translate(1483.4 47.4) scale(1 1.07)" font-size="13.2" fill="#4d4d4d" stroke="#4d4d4d" stroke-width="0.25" text-anchor="end">100%</text>
<line x1="1488.15" y1="208.8" x2="1885.2" y2="208.8" stroke="#222222" stroke-width="1.5" stroke-linecap="butt"/>
<line x1="1517.7" y1="208.8" x2="1517.7" y2="212" stroke="#333" stroke-width="1.1" stroke-linecap="butt"/>
<text transform="translate(1524.95 221.8) rotate(-45) scale(1 1.07)" font-size="13.5" fill="#4d4d4d" stroke="#4d4d4d" stroke-width="0.25" text-anchor="end">Amino</text>
<line x1="1566.05" y1="208.8" x2="1566.05" y2="212" stroke="#333" stroke-width="1.1" stroke-linecap="butt"/>
<text transform="translate(1573.3 221.8) rotate(-45) scale(1 1.07)" font-size="13.5" fill="#4d4d4d" stroke="#4d4d4d" stroke-width="0.25" text-anchor="end">BetaL</text>
<line x1="1614.4" y1="208.8" x2="1614.4" y2="212" stroke="#333" stroke-width="1.1" stroke-linecap="butt"/>
<text transform="translate(1621.65 221.8) rotate(-45) scale(1 1.07)" font-size="13.5" fill="#4d4d4d" stroke="#4d4d4d" stroke-width="0.25" text-anchor="end">Phenicols</text>
<line x1="1662.75" y1="208.8" x2="1662.75" y2="212" stroke="#333" stroke-width="1.1" stroke-linecap="butt"/>
<text transform="translate(1670 221.8) rotate(-45) scale(1 1.07)" font-size="13.5" fill="#4d4d4d" stroke="#4d4d4d" stroke-width="0.25" text-anchor="end">Macro</text>
<line x1="1711.1" y1="208.8" x2="1711.1" y2="212" stroke="#333" stroke-width="1.1" stroke-linecap="butt"/>
<text transform="translate(1718.35 221.8) rotate(-45) scale(1 1.07)" font-size="13.5" fill="#4d4d4d" stroke="#4d4d4d" stroke-width="0.25" text-anchor="end">Quino</text>
<line x1="1759.45" y1="208.8" x2="1759.45" y2="212" stroke="#333" stroke-width="1.1" stroke-linecap="butt"/>
<text transform="translate(1766.7 221.8) rotate(-45) scale(1 1.07)" font-size="13.5" fill="#4d4d4d" stroke="#4d4d4d" stroke-width="0.25" text-anchor="end">Sulph</text>
<line x1="1807.8" y1="208.8" x2="1807.8" y2="212" stroke="#333" stroke-width="1.1" stroke-linecap="butt"/>
<text transform="translate(1815.05 221.8) rotate(-45) scale(1 1.07)" font-size="13.5" fill="#4d4d4d" stroke="#4d4d4d" stroke-width="0.25" text-anchor="end">Tetra</text>
<line x1="1856.15" y1="208.8" x2="1856.15" y2="212" stroke="#333" stroke-width="1.1" stroke-linecap="butt"/>
<text transform="translate(1863.4 221.8) rotate(-45) scale(1 1.07)" font-size="13.5" fill="#4d4d4d" stroke="#4d4d4d" stroke-width="0.25" text-anchor="end">Trime</text>
<text transform="translate(1686.92 284) scale(1 1.07)" font-size="13.5" fill="#1a1a1a" stroke="#1a1a1a" stroke-width="0.25" text-anchor="middle">EC</text>
<rect x="1059.2" y="298.2" width="43.8" height="158.1" fill="#003f5c" stroke="#000" stroke-width="1.2"/>
<rect x="1059.2" y="373.14" width="43.8" height="83.16" fill="#ffa600" stroke="#000" stroke-width="1.2"/>
<rect x="1107.55" y="298.2" width="43.8" height="158.1" fill="#003f5c" stroke="#000" stroke-width="1.2"/>
<rect x="1107.55" y="410.13" width="43.8" height="46.17" fill="#ffa600" stroke="#000" stroke-width="1.2"/>
<rect x="1155.9" y="298.2" width="43.8" height="158.1" fill="#003f5c" stroke="#000" stroke-width="1.2"/>
<rect x="1155.9" y="419.46" width="43.8" height="36.84" fill="#ffa600" stroke="#000" stroke-width="1.2"/>
<rect x="1204.25" y="298.2" width="43.8" height="158.1" fill="#003f5c" stroke="#000" stroke-width="1.2"/>
<rect x="1204.25" y="428.95" width="43.8" height="27.35" fill="#ffa600" stroke="#000" stroke-width="1.2"/>
<rect x="1252.6" y="298.2" width="43.8" height="158.1" fill="#003f5c" stroke="#000" stroke-width="1.2"/>
<rect x="1252.6" y="437.96" width="43.8" height="18.34" fill="#ffa600" stroke="#000" stroke-width="1.2"/>
<rect x="1300.95" y="298.2" width="43.8" height="158.1" fill="#003f5c" stroke="#000" stroke-width="1.2"/>
<rect x="1300.95" y="373.14" width="43.8" height="83.16" fill="#ffa600" stroke="#000" stroke-width="1.2"/>
<rect x="1349.3" y="298.2" width="43.8" height="158.1" fill="#003f5c" stroke="#000" stroke-width="1.2"/>
<rect x="1349.3" y="377.57" width="43.8" height="78.73" fill="#ffa600" stroke="#000" stroke-width="1.2"/>
<rect x="1397.65" y="298.2" width="43.8" height="158.1" fill="#003f5c" stroke="#000" stroke-width="1.2"/>
<rect x="1397.65" y="377.57" width="43.8" height="78.73" fill="#ffa600" stroke="#000" stroke-width="1.2"/>
<line x1="1052.4" y1="291" x2="1052.4" y2="464.75" stroke="#222222" stroke-width="1.5" stroke-linecap="butt"/>
<line x1="1049.4" y1="456.3" x2="1052.4" y2="456.3" stroke="#333" stroke-width="1.1" stroke-linecap="butt"/>
<text transform="translate(1046.9 460.7) scale(1 1.07)" font-size="13.2" fill="#4d4d4d" stroke="#4d4d4d" stroke-width="0.25" text-anchor="end">0%</text>
<line x1="1049.4" y1="416.77" x2="1052.4" y2="416.77" stroke="#333" stroke-width="1.1" stroke-linecap="butt"/>
<text transform="translate(1046.9 421.17) scale(1 1.07)" font-size="13.2" fill="#4d4d4d" stroke="#4d4d4d" stroke-width="0.25" text-anchor="end">25%</text>
<line x1="1049.4" y1="377.25" x2="1052.4" y2="377.25" stroke="#333" stroke-width="1.1" stroke-linecap="butt"/>
<text transform="translate(1046.9 381.65) scale(1 1.07)" font-size="13.2" fill="#4d4d4d" stroke="#4d4d4d" stroke-width="0.25" text-anchor="end">50%</text>
<line x1="1049.4" y1="337.73" x2="1052.4" y2="337.73" stroke="#333" stroke-width="1.1" stroke-linecap="butt"/>
<text transform="translate(1046.9 342.12) scale(1 1.07)" font-size="13.2" fill="#4d4d4d" stroke="#4d4d4d" stroke-width="0.25" text-anchor="end">75%</text>
<line x1="1049.4" y1="298.2" x2="1052.4" y2="298.2" stroke="#333" stroke-width="1.1" stroke-linecap="butt"/>
<text transform="translate(1046.9 302.6) scale(1 1.07)" font-size="13.2" fill="#4d4d4d" stroke="#4d4d4d" stroke-width="0.25" text-anchor="end">100%</text>
<line x1="1051.65" y1="464" x2="1448.5" y2="464" stroke="#222222" stroke-width="1.5" stroke-linecap="butt"/>
<line x1="1081.1" y1="464" x2="1081.1" y2="467.2" stroke="#333" stroke-width="1.1" stroke-linecap="butt"/>
<text transform="translate(1088.35 477) rotate(-45) scale(1 1.07)" font-size="13.5" fill="#4d4d4d" stroke="#4d4d4d" stroke-width="0.25" text-anchor="end">Amino</text>
<line x1="1129.45" y1="464" x2="1129.45" y2="467.2" stroke="#333" stroke-width="1.1" stroke-linecap="butt"/>
<text transform="translate(1136.7 477) rotate(-45) scale(1 1.07)" font-size="13.5" fill="#4d4d4d" stroke="#4d4d4d" stroke-width="0.25" text-anchor="end">BetaL</text>
<line x1="1177.8" y1="464" x2="1177.8" y2="467.2" stroke="#333" stroke-width="1.1" stroke-linecap="butt"/>
<text transform="translate(1185.05 477) rotate(-45) scale(1 1.07)" font-size="13.5" fill="#4d4d4d" stroke="#4d4d4d" stroke-width="0.25" text-anchor="end">Phenicols</text>
<line x1="1226.15" y1="464" x2="1226.15" y2="467.2" stroke="#333" stroke-width="1.1" stroke-linecap="butt"/>
<text transform="translate(1233.4 477) rotate(-45) scale(1 1.07)" font-size="13.5" fill="#4d4d4d" stroke="#4d4d4d" stroke-width="0.25" text-anchor="end">Macro</text>
<line x1="1274.5" y1="464" x2="1274.5" y2="467.2" stroke="#333" stroke-width="1.1" stroke-linecap="butt"/>
<text transform="translate(1281.75 477) rotate(-45) scale(1 1.07)" font-size="13.5" fill="#4d4d4d" stroke="#4d4d4d" stroke-width="0.25" text-anchor="end">Quino</text>
<line x1="1322.85" y1="464" x2="1322.85" y2="467.2" stroke="#333" stroke-width="1.1" stroke-linecap="butt"/>
<text transform="translate(1330.1 477) rotate(-45) scale(1 1.07)" font-size="13.5" fill="#4d4d4d" stroke="#4d4d4d" stroke-width="0.25" text-anchor="end">Sulph</text>
<line x1="1371.2" y1="464" x2="1371.2" y2="467.2" stroke="#333" stroke-width="1.1" stroke-linecap="butt"/>
<text transform="translate(1378.45 477) rotate(-45) scale(1 1.07)" font-size="13.5" fill="#4d4d4d" stroke="#4d4d4d" stroke-width="0.25" text-anchor="end">Tetra</text>
<line x1="1419.55" y1="464" x2="1419.55" y2="467.2" stroke="#333" stroke-width="1.1" stroke-linecap="butt"/>
<text transform="translate(1426.8 477) rotate(-45) scale(1 1.07)" font-size="13.5" fill="#4d4d4d" stroke="#4d4d4d" stroke-width="0.25" text-anchor="end">Trime</text>
<text transform="translate(1250.33 538.7) scale(1 1.07)" font-size="13.5" fill="#1a1a1a" stroke="#1a1a1a" stroke-width="0.25" text-anchor="middle">BO</text>
<rect x="1495.8" y="298.2" width="43.8" height="158.1" fill="#003f5c" stroke="#000" stroke-width="1.2"/>
<rect x="1495.8" y="359.38" width="43.8" height="96.92" fill="#ffa600" stroke="#000" stroke-width="1.2"/>
<rect x="1544.15" y="298.2" width="43.8" height="158.1" fill="#003f5c" stroke="#000" stroke-width="1.2"/>
<rect x="1544.15" y="365.55" width="43.8" height="90.75" fill="#ffa600" stroke="#000" stroke-width="1.2"/>
<rect x="1592.5" y="298.2" width="43.8" height="158.1" fill="#003f5c" stroke="#000" stroke-width="1.2"/>
<rect x="1592.5" y="410.93" width="43.8" height="45.37" fill="#ffa600" stroke="#000" stroke-width="1.2"/>
<rect x="1640.85" y="298.2" width="43.8" height="158.1" fill="#003f5c" stroke="#000" stroke-width="1.2"/>
<rect x="1640.85" y="450.45" width="43.8" height="5.85" fill="#ffa600" stroke="#000" stroke-width="1.2"/>
<rect x="1689.2" y="298.2" width="43.8" height="158.1" fill="#003f5c" stroke="#000" stroke-width="1.2"/>
<rect x="1689.2" y="447.29" width="43.8" height="9.01" fill="#ffa600" stroke="#000" stroke-width="1.2"/>
<rect x="1737.55" y="298.2" width="43.8" height="158.1" fill="#003f5c" stroke="#000" stroke-width="1.2"/>
<rect x="1737.55" y="359.38" width="43.8" height="96.92" fill="#ffa600" stroke="#000" stroke-width="1.2"/>
<rect x="1785.9" y="298.2" width="43.8" height="158.1" fill="#003f5c" stroke="#000" stroke-width="1.2"/>
<rect x="1785.9" y="359.38" width="43.8" height="96.92" fill="#ffa600" stroke="#000" stroke-width="1.2"/>
<rect x="1834.25" y="298.2" width="43.8" height="158.1" fill="#003f5c" stroke="#000" stroke-width="1.2"/>
<rect x="1834.25" y="374.4" width="43.8" height="81.9" fill="#ffa600" stroke="#000" stroke-width="1.2"/>
<line x1="1488.9" y1="291" x2="1488.9" y2="464.75" stroke="#222222" stroke-width="1.5" stroke-linecap="butt"/>
<line x1="1485.9" y1="456.3" x2="1488.9" y2="456.3" stroke="#333" stroke-width="1.1" stroke-linecap="butt"/>
<text transform="translate(1483.4 460.7) scale(1 1.07)" font-size="13.2" fill="#4d4d4d" stroke="#4d4d4d" stroke-width="0.25" text-anchor="end">0%</text>
<line x1="1485.9" y1="416.77" x2="1488.9" y2="416.77" stroke="#333" stroke-width="1.1" stroke-linecap="butt"/>
<text transform="translate(1483.4 421.17) scale(1 1.07)" font-size="13.2" fill="#4d4d4d" stroke="#4d4d4d" stroke-width="0.25" text-anchor="end">25%</text>
<line x1="1485.9" y1="377.25" x2="1488.9" y2="377.25" stroke="#333" stroke-width="1.1" stroke-linecap="butt"/>
<text transform="translate(1483.4 381.65) scale(1 1.07)" font-size="13.2" fill="#4d4d4d" stroke="#4d4d4d" stroke-width="0.25" text-anchor="end">50%</text>
<line x1="1485.9" y1="337.73" x2="1488.9" y2="337.73" stroke="#333" stroke-width="1.1" stroke-linecap="butt"/>
<text transform="translate(1483.4 342.12) scale(1 1.07)" font-size="13.2" fill="#4d4d4d" stroke="#4d4d4d" stroke-width="0.25" text-anchor="end">75%</text>
<line x1="1485.9" y1="298.2" x2="1488.9" y2="298.2" stroke="#333" stroke-width="1.1" stroke-linecap="butt"/>
<text transform="translate(1483.4 302.6) scale(1 1.07)" font-size="13.2" fill="#4d4d4d" stroke="#4d4d4d" stroke-width="0.25" text-anchor="end">100%</text>
<line x1="1488.15" y1="464" x2="1885.2" y2="464" stroke="#222222" stroke-width="1.5" stroke-linecap="butt"/>
<line x1="1517.7" y1="464" x2="1517.7" y2="467.2" stroke="#333" stroke-width="1.1" stroke-linecap="butt"/>
<text transform="translate(1524.95 477) rotate(-45) scale(1 1.07)" font-size="13.5" fill="#4d4d4d" stroke="#4d4d4d" stroke-width="0.25" text-anchor="end">Amino</text>
<line x1="1566.05" y1="464" x2="1566.05" y2="467.2" stroke="#333" stroke-width="1.1" stroke-linecap="butt"/>
<text transform="translate(1573.3 477) rotate(-45) scale(1 1.07)" font-size="13.5" fill="#4d4d4d" stroke="#4d4d4d" stroke-width="0.25" text-anchor="end">BetaL</text>
<line x1="1614.4" y1="464" x2="1614.4" y2="467.2" stroke="#333" stroke-width="1.1" stroke-linecap="butt"/>
<text transform="translate(1621.65 477) rotate(-45) scale(1 1.07)" font-size="13.5" fill="#4d4d4d" stroke="#4d4d4d" stroke-width="0.25" text-anchor="end">Phenicols</text>
<line x1="1662.75" y1="464" x2="1662.75" y2="467.2" stroke="#333" stroke-width="1.1" stroke-linecap="butt"/>
<text transform="translate(1670 477) rotate(-45) scale(1 1.07)" font-size="13.5" fill="#4d4d4d" stroke="#4d4d4d" stroke-width="0.25" text-anchor="end">Macro</text>
<line x1="1711.1" y1="464" x2="1711.1" y2="467.2" stroke="#333" stroke-width="1.1" stroke-linecap="butt"/>
<text transform="translate(1718.35 477) rotate(-45) scale(1 1.07)" font-size="13.5" fill="#4d4d4d" stroke="#4d4d4d" stroke-width="0.25" text-anchor="end">Quino</text>
<line x1="1759.45" y1="464" x2="1759.45" y2="467.2" stroke="#333" stroke-width="1.1" stroke-linecap="butt"/>
<text transform="translate(1766.7 477) rotate(-45) scale(1 1.07)" font-size="13.5" fill="#4d4d4d" stroke="#4d4d4d" stroke-width="0.25" text-anchor="end">Sulph</text>
<line x1="1807.8" y1="464" x2="1807.8" y2="467.2" stroke="#333" stroke-width="1.1" stroke-linecap="butt"/>
<text transform="translate(1815.05 477) rotate(-45) scale(1 1.07)" font-size="13.5" fill="#4d4d4d" stroke="#4d4d4d" stroke-width="0.25" text-anchor="end">Tetra</text>
<line x1="1856.15" y1="464" x2="1856.15" y2="467.2" stroke="#333" stroke-width="1.1" stroke-linecap="butt"/>
<text transform="translate(1863.4 477) rotate(-45) scale(1 1.07)" font-size="13.5" fill="#4d4d4d" stroke="#4d4d4d" stroke-width="0.25" text-anchor="end">Trime</text>
<text transform="translate(1686.92 538.6) scale(1 1.07)" font-size="13.5" fill="#1a1a1a" stroke="#1a1a1a" stroke-width="0.25" text-anchor="middle">CS</text>
<text transform="translate(1004.5 249.6) rotate(-90)" font-size="16.6" fill="#000" stroke="#000" stroke-width="0.25" text-anchor="middle">Relative proportion</text>
<text transform="translate(1304.7 596.8) scale(1 1.07)" font-size="13.45" fill="#1a1a1a" stroke="#1a1a1a" stroke-width="0.25">Category</text>
<rect x="1366.1" y="583.9" width="18" height="17.6" fill="#003f5c" stroke="#000" stroke-width="1"/>
<text transform="translate(1391.5 596.8) scale(1 1.07)" font-size="13.45" fill="#1a1a1a" stroke="#1a1a1a" stroke-width="0.25">Total negative (%)</text>
<rect x="1505.9" y="583.9" width="17.6" height="17.6" fill="#ffa600" stroke="#000" stroke-width="1"/>
<text transform="translate(1530.5 596.8) scale(1 1.07)" font-size="13.45" fill="#1a1a1a" stroke="#1a1a1a" stroke-width="0.25">Total Positive (%)</text>
<text transform="translate(965.9 657.5) scale(1 1.08)" font-size="16" fill="#000" font-weight="bold">F</text>
<line x1="1171.1" y1="696.2" x2="1210.58" y2="696.2" stroke="#333333" stroke-width="1.1" stroke-linecap="butt"/>
<line x1="1407.98" y1="696.2" x2="1486.94" y2="696.2" stroke="#333333" stroke-width="1.1" stroke-linecap="butt"/>
<rect x="1210.58" y="681.05" width="197.4" height="30.3" fill="#003f5c" stroke="#333333" stroke-width="1"/>
<line x1="1329.02" y1="681.05" x2="1329.02" y2="711.35" stroke="#333333" stroke-width="2" stroke-linecap="butt"/>
<line x1="1152.1" y1="696.2" x2="1155.1" y2="696.2" stroke="#333" stroke-width="1.1" stroke-linecap="butt"/>
<text transform="translate(1152.7 701.7) rotate(-45) scale(1 1.07)" font-size="13.5" fill="#4d4d4d" stroke="#4d4d4d" stroke-width="0.25" text-anchor="end">POSTWEAN</text>
<line x1="1171.1" y1="736.54" x2="1240.19" y2="736.54" stroke="#333333" stroke-width="1.1" stroke-linecap="butt"/>
<line x1="1407.98" y1="736.54" x2="1486.94" y2="736.54" stroke="#333333" stroke-width="1.1" stroke-linecap="butt"/>
<rect x="1240.19" y="721.39" width="167.79" height="30.3" fill="#003f5c" stroke="#333333" stroke-width="1"/>
<line x1="1368.5" y1="721.39" x2="1368.5" y2="751.69" stroke="#333333" stroke-width="2" stroke-linecap="butt"/>
<line x1="1152.1" y1="736.54" x2="1155.1" y2="736.54" stroke="#333" stroke-width="1.1" stroke-linecap="butt"/>
<text transform="translate(1152.7 742.04) rotate(-45) scale(1 1.07)" font-size="13.5" fill="#4d4d4d" stroke="#4d4d4d" stroke-width="0.25" text-anchor="end">PREWEAN</text>
<line x1="1171.1" y1="776.88" x2="1210.58" y2="776.88" stroke="#333333" stroke-width="1.1" stroke-linecap="butt"/>
<line x1="1407.98" y1="776.88" x2="1486.94" y2="776.88" stroke="#333333" stroke-width="1.1" stroke-linecap="butt"/>
<rect x="1210.58" y="761.73" width="197.4" height="30.3" fill="#003f5c" stroke="#333333" stroke-width="1"/>
<line x1="1289.54" y1="761.73" x2="1289.54" y2="792.03" stroke="#333333" stroke-width="2" stroke-linecap="butt"/>
<line x1="1152.1" y1="776.88" x2="1155.1" y2="776.88" stroke="#333" stroke-width="1.1" stroke-linecap="butt"/>
<text transform="translate(1152.7 782.38) rotate(-45) scale(1 1.07)" font-size="13.5" fill="#4d4d4d" stroke="#4d4d4d" stroke-width="0.25" text-anchor="end">NEONATAL</text>
<line x1="1171.1" y1="817.22" x2="1210.58" y2="817.22" stroke="#333333" stroke-width="1.1" stroke-linecap="butt"/>
<line x1="1368.5" y1="817.22" x2="1447.46" y2="817.22" stroke="#333333" stroke-width="1.1" stroke-linecap="butt"/>
<rect x="1210.58" y="802.07" width="157.92" height="30.3" fill="#ffa600" stroke="#333333" stroke-width="1"/>
<line x1="1289.54" y1="802.07" x2="1289.54" y2="832.37" stroke="#333333" stroke-width="2" stroke-linecap="butt"/>
<line x1="1152.1" y1="817.22" x2="1155.1" y2="817.22" stroke="#333" stroke-width="1.1" stroke-linecap="butt"/>
<text transform="translate(1152.7 822.72) rotate(-45) scale(1 1.07)" font-size="13.5" fill="#4d4d4d" stroke="#4d4d4d" stroke-width="0.25" text-anchor="end">No type</text>
<line x1="1299.41" y1="857.56" x2="1368.5" y2="857.56" stroke="#333333" stroke-width="1.1" stroke-linecap="butt"/>
<rect x="1171.1" y="842.41" width="128.31" height="30.3" fill="#ffa600" stroke="#333333" stroke-width="1"/>
<line x1="1269.8" y1="842.41" x2="1269.8" y2="872.71" stroke="#333333" stroke-width="2" stroke-linecap="butt"/>
<line x1="1152.1" y1="857.56" x2="1155.1" y2="857.56" stroke="#333" stroke-width="1.1" stroke-linecap="butt"/>
<text transform="translate(1152.7 863.06) rotate(-45) scale(1 1.07)" font-size="13.5" fill="#4d4d4d" stroke="#4d4d4d" stroke-width="0.25" text-anchor="end">More than seven ExPEC VFs</text>
<line x1="1171.1" y1="897.9" x2="1210.58" y2="897.9" stroke="#333333" stroke-width="1.1" stroke-linecap="butt"/>
<line x1="1407.98" y1="897.9" x2="1486.94" y2="897.9" stroke="#333333" stroke-width="1.1" stroke-linecap="butt"/>
<rect x="1210.58" y="882.75" width="197.4" height="30.3" fill="#ffa600" stroke="#333333" stroke-width="1"/>
<line x1="1368.5" y1="882.75" x2="1368.5" y2="913.05" stroke="#333333" stroke-width="2" stroke-linecap="butt"/>
<line x1="1152.1" y1="897.9" x2="1155.1" y2="897.9" stroke="#333" stroke-width="1.1" stroke-linecap="butt"/>
<text transform="translate(1152.7 903.4) rotate(-45) scale(1 1.07)" font-size="13.5" fill="#4d4d4d" stroke="#4d4d4d" stroke-width="0.25" text-anchor="end">ExPEC</text>
<line x1="1171.1" y1="938.24" x2="1210.58" y2="938.24" stroke="#333333" stroke-width="1.1" stroke-linecap="butt"/>
<line x1="1407.98" y1="938.24" x2="1486.94" y2="938.24" stroke="#333333" stroke-width="1.1" stroke-linecap="butt"/>
<rect x="1210.58" y="923.09" width="197.4" height="30.3" fill="#ffa600" stroke="#333333" stroke-width="1"/>
<line x1="1329.02" y1="923.09" x2="1329.02" y2="953.39" stroke="#333333" stroke-width="2" stroke-linecap="butt"/>
<line x1="1152.1" y1="938.24" x2="1155.1" y2="938.24" stroke="#333" stroke-width="1.1" stroke-linecap="butt"/>
<text transform="translate(1152.7 943.74) rotate(-45) scale(1 1.07)" font-size="13.5" fill="#4d4d4d" stroke="#4d4d4d" stroke-width="0.25" text-anchor="end">Toxin or fimbriae</text>
<line x1="1259.93" y1="978.58" x2="1368.5" y2="978.58" stroke="#333333" stroke-width="1.1" stroke-linecap="butt"/>
<rect x="1171.1" y="963.43" width="88.83" height="30.3" fill="#ffa600" stroke="#333333" stroke-width="1"/>
<line x1="1171.1" y1="963.43" x2="1171.1" y2="993.73" stroke="#333333" stroke-width="2" stroke-linecap="butt"/>
<circle cx="1407.98" cy="978.58" r="2.6" fill="#333333"/>
<circle cx="1447.46" cy="978.58" r="2.6" fill="#333333"/>
<line x1="1152.1" y1="978.58" x2="1155.1" y2="978.58" stroke="#333" stroke-width="1.1" stroke-linecap="butt"/>
<text transform="translate(1152.7 984.08) rotate(-45) scale(1 1.07)" font-size="13.5" fill="#4d4d4d" stroke="#4d4d4d" stroke-width="0.25" text-anchor="end">STEC</text>
<line x1="1171.1" y1="1018.92" x2="1250.06" y2="1018.92" stroke="#333333" stroke-width="1.1" stroke-linecap="butt"/>
<line x1="1447.46" y1="1018.92" x2="1486.94" y2="1018.92" stroke="#333333" stroke-width="1.1" stroke-linecap="butt"/>
<rect x="1250.06" y="1003.77" width="197.4" height="30.3" fill="#ffa600" stroke="#333333" stroke-width="1"/>
<line x1="1407.98" y1="1003.77" x2="1407.98" y2="1034.07" stroke="#333333" stroke-width="2" stroke-linecap="butt"/>
<line x1="1152.1" y1="1018.92" x2="1155.1" y2="1018.92" stroke="#333" stroke-width="1.1" stroke-linecap="butt"/>
<text transform="translate(1152.7 1024.42) rotate(-45) scale(1 1.07)" font-size="13.5" fill="#4d4d4d" stroke="#4d4d4d" stroke-width="0.25" text-anchor="end">ETEC</text>
<line x1="1171.1" y1="1059.26" x2="1190.84" y2="1059.26" stroke="#333333" stroke-width="1.1" stroke-linecap="butt"/>
<line x1="1368.5" y1="1059.26" x2="1486.94" y2="1059.26" stroke="#333333" stroke-width="1.1" stroke-linecap="butt"/>
<rect x="1190.84" y="1044.11" width="177.66" height="30.3" fill="#bc5090" stroke="#333333" stroke-width="1"/>
<line x1="1329.02" y1="1044.11" x2="1329.02" y2="1074.41" stroke="#333333" stroke-width="2" stroke-linecap="butt"/>
<line x1="1152.1" y1="1059.26" x2="1155.1" y2="1059.26" stroke="#333" stroke-width="1.1" stroke-linecap="butt"/>
<text transform="translate(1152.7 1064.76) rotate(-45) scale(1 1.07)" font-size="13.5" fill="#4d4d4d" stroke="#4d4d4d" stroke-width="0.25" text-anchor="end">Colisepticaemia</text>
<line x1="1368.5" y1="1099.6" x2="1447.46" y2="1099.6" stroke="#333333" stroke-width="1.1" stroke-linecap="butt"/>
<rect x="1171.1" y="1084.45" width="197.4" height="30.3" fill="#bc5090" stroke="#333333" stroke-width="1"/>
<line x1="1329.02" y1="1084.45" x2="1329.02" y2="1114.75" stroke="#333333" stroke-width="2" stroke-linecap="butt"/>
<line x1="1152.1" y1="1099.6" x2="1155.1" y2="1099.6" stroke="#333" stroke-width="1.1" stroke-linecap="butt"/>
<text transform="translate(1152.7 1105.1) rotate(-45) scale(1 1.07)" font-size="13.5" fill="#4d4d4d" stroke="#4d4d4d" stroke-width="0.25" text-anchor="end">Bowel oedema</text>
<line x1="1171.1" y1="1139.94" x2="1210.58" y2="1139.94" stroke="#333333" stroke-width="1.1" stroke-linecap="butt"/>
<line x1="1407.98" y1="1139.94" x2="1486.94" y2="1139.94" stroke="#333333" stroke-width="1.1" stroke-linecap="butt"/>
<rect x="1210.58" y="1124.79" width="197.4" height="30.3" fill="#bc5090" stroke="#333333" stroke-width="1"/>
<line x1="1329.02" y1="1124.79" x2="1329.02" y2="1155.09" stroke="#333333" stroke-width="2" stroke-linecap="butt"/>
<line x1="1152.1" y1="1139.94" x2="1155.1" y2="1139.94" stroke="#333" stroke-width="1.1" stroke-linecap="butt"/>
<text transform="translate(1152.7 1145.44) rotate(-45) scale(1 1.07)" font-size="13.5" fill="#4d4d4d" stroke="#4d4d4d" stroke-width="0.25" text-anchor="end">Enteric colibacillosis</text>
<line x1="1329.02" y1="1164.4" x2="1329.02" y2="672.1" stroke="#e81010" stroke-width="2.2" stroke-linecap="butt" stroke-dasharray="12.81,12.81"/>
<line x1="1155.1" y1="672.1" x2="1155.1" y2="1164.95" stroke="#222222" stroke-width="1.5" stroke-linecap="butt"/>
<line x1="1154.35" y1="1164.2" x2="1502.9" y2="1164.2" stroke="#222222" stroke-width="1.5" stroke-linecap="butt"/>
<line x1="1171.1" y1="1164.2" x2="1171.1" y2="1167.2" stroke="#333" stroke-width="1.1" stroke-linecap="butt"/>
<text transform="translate(1171.1 1179.3) scale(1 1.07)" font-size="13.2" fill="#4d4d4d" stroke="#4d4d4d" stroke-width="0.25" text-anchor="middle">0</text>
<line x1="1250.06" y1="1164.2" x2="1250.06" y2="1167.2" stroke="#333" stroke-width="1.1" stroke-linecap="butt"/>
<text transform="translate(1250.06 1179.3) scale(1 1.07)" font-size="13.2" fill="#4d4d4d" stroke="#4d4d4d" stroke-width="0.25" text-anchor="middle">2</text>
<line x1="1329.02" y1="1164.2" x2="1329.02" y2="1167.2" stroke="#333" stroke-width="1.1" stroke-linecap="butt"/>
<text transform="translate(1329.02 1179.3) scale(1 1.07)" font-size="13.2" fill="#4d4d4d" stroke="#4d4d4d" stroke-width="0.25" text-anchor="middle">4</text>
<line x1="1407.98" y1="1164.2" x2="1407.98" y2="1167.2" stroke="#333" stroke-width="1.1" stroke-linecap="butt"/>
<text transform="translate(1407.98 1179.3) scale(1 1.07)" font-size="13.2" fill="#4d4d4d" stroke="#4d4d4d" stroke-width="0.25" text-anchor="middle">6</text>
<line x1="1486.94" y1="1164.2" x2="1486.94" y2="1167.2" stroke="#333" stroke-width="1.1" stroke-linecap="butt"/>
<text transform="translate(1486.94 1179.3) scale(1 1.07)" font-size="13.2" fill="#4d4d4d" stroke="#4d4d4d" stroke-width="0.25" text-anchor="middle">8</text>
<text transform="translate(1160.6 1234.9) scale(1 1.03)" font-size="16.75" fill="#000" stroke="#000" stroke-width="0.25">Attribute</text>
<line x1="1231.3" y1="1229.5" x2="1246.9" y2="1229.5" stroke="#333333" stroke-width="1.1" stroke-linecap="butt"/>
<rect x="1234.1" y="1222.2" width="10.3" height="14.6" fill="#003f5c" stroke="#333333" stroke-width="1"/>
<line x1="1239.25" y1="1222.2" x2="1239.25" y2="1236.8" stroke="#333333" stroke-width="1.3" stroke-linecap="butt"/>
<text transform="translate(1255.3 1234.9) scale(1 1.03)" font-size="16.75" fill="#000" stroke="#000" stroke-width="0.25">Age</text>
<line x1="1292.5" y1="1229.5" x2="1308.1" y2="1229.5" stroke="#333333" stroke-width="1.1" stroke-linecap="butt"/>
<rect x="1295.3" y="1222.2" width="10.3" height="14.6" fill="#bc5090" stroke="#333333" stroke-width="1"/>
<line x1="1300.45" y1="1222.2" x2="1300.45" y2="1236.8" stroke="#333333" stroke-width="1.3" stroke-linecap="butt"/>
<text transform="translate(1317 1234.9) scale(1 1.03)" font-size="16.75" fill="#000" stroke="#000" stroke-width="0.25">Diagnosis</text>
<line x1="1398.9" y1="1229.5" x2="1414.5" y2="1229.5" stroke="#333333" stroke-width="1.1" stroke-linecap="butt"/>
<rect x="1401.7" y="1222.2" width="10.3" height="14.6" fill="#ffa600" stroke="#333333" stroke-width="1"/>
<line x1="1406.85" y1="1222.2" x2="1406.85" y2="1236.8" stroke="#333333" stroke-width="1.3" stroke-linecap="butt"/>
<text transform="translate(1422.8 1234.9) scale(1 1.03)" font-size="16.75" fill="#000" stroke="#000" stroke-width="0.25">Pathotype</text>
<text transform="translate(1541 657.3) scale(1 1.08)" font-size="16" fill="#000" font-weight="bold">G</text>
<rect x="1571.9" y="678.2" width="183.81" height="36" fill="#ffa600"/>
<rect x="1755.71" y="678.2" width="114.59" height="36" fill="#003f5c"/>
<line x1="1553.9" y1="696.2" x2="1556.9" y2="696.2" stroke="#333" stroke-width="1.1" stroke-linecap="butt"/>
<rect x="1571.9" y="718.54" width="202.61" height="36" fill="#ffa600"/>
<rect x="1774.51" y="718.54" width="95.79" height="36" fill="#003f5c"/>
<line x1="1553.9" y1="736.54" x2="1556.9" y2="736.54" stroke="#333" stroke-width="1.1" stroke-linecap="butt"/>
<rect x="1571.9" y="758.88" width="177.55" height="36" fill="#ffa600"/>
<rect x="1749.45" y="758.88" width="120.85" height="36" fill="#003f5c"/>
<line x1="1553.9" y1="776.88" x2="1556.9" y2="776.88" stroke="#333" stroke-width="1.1" stroke-linecap="butt"/>
<rect x="1571.9" y="799.22" width="176.06" height="36" fill="#ffa600"/>
<rect x="1747.96" y="799.22" width="122.34" height="36" fill="#003f5c"/>
<line x1="1553.9" y1="817.22" x2="1556.9" y2="817.22" stroke="#333" stroke-width="1.1" stroke-linecap="butt"/>
<rect x="1571.9" y="839.56" width="149.2" height="36" fill="#ffa600"/>
<rect x="1721.1" y="839.56" width="149.2" height="36" fill="#003f5c"/>
<line x1="1553.9" y1="857.56" x2="1556.9" y2="857.56" stroke="#333" stroke-width="1.1" stroke-linecap="butt"/>
<rect x="1571.9" y="879.9" width="195.45" height="36" fill="#ffa600"/>
<rect x="1767.35" y="879.9" width="102.95" height="36" fill="#003f5c"/>
<line x1="1553.9" y1="897.9" x2="1556.9" y2="897.9" stroke="#333" stroke-width="1.1" stroke-linecap="butt"/>
<rect x="1571.9" y="920.24" width="205.9" height="36" fill="#ffa600"/>
<rect x="1777.8" y="920.24" width="92.5" height="36" fill="#003f5c"/>
<line x1="1553.9" y1="938.24" x2="1556.9" y2="938.24" stroke="#333" stroke-width="1.1" stroke-linecap="butt"/>
<rect x="1571.9" y="960.58" width="85.34" height="36" fill="#ffa600"/>
<rect x="1657.24" y="960.58" width="213.06" height="36" fill="#003f5c"/>
<line x1="1553.9" y1="978.58" x2="1556.9" y2="978.58" stroke="#333" stroke-width="1.1" stroke-linecap="butt"/>
<rect x="1571.9" y="1000.92" width="218.73" height="36" fill="#ffa600"/>
<rect x="1790.63" y="1000.92" width="79.67" height="36" fill="#003f5c"/>
<line x1="1553.9" y1="1018.92" x2="1556.9" y2="1018.92" stroke="#333" stroke-width="1.1" stroke-linecap="butt"/>
<rect x="1571.9" y="1041.26" width="192.77" height="36" fill="#ffa600"/>
<rect x="1764.67" y="1041.26" width="105.63" height="36" fill="#003f5c"/>
<line x1="1553.9" y1="1059.26" x2="1556.9" y2="1059.26" stroke="#333" stroke-width="1.1" stroke-linecap="butt"/>
<rect x="1571.9" y="1081.6" width="174.86" height="36" fill="#ffa600"/>
<rect x="1746.76" y="1081.6" width="123.54" height="36" fill="#003f5c"/>
<line x1="1553.9" y1="1099.6" x2="1556.9" y2="1099.6" stroke="#333" stroke-width="1.1" stroke-linecap="butt"/>
<rect x="1571.9" y="1121.94" width="188.89" height="36" fill="#ffa600"/>
<rect x="1760.79" y="1121.94" width="109.51" height="36" fill="#003f5c"/>
<line x1="1553.9" y1="1139.94" x2="1556.9" y2="1139.94" stroke="#333" stroke-width="1.1" stroke-linecap="butt"/>
<line x1="1756.9" y1="1164.4" x2="1756.9" y2="672.1" stroke="#e81010" stroke-width="2.2" stroke-linecap="butt" stroke-dasharray="12.81,12.81"/>
<line x1="1556.9" y1="672.1" x2="1556.9" y2="1164.95" stroke="#222222" stroke-width="1.5" stroke-linecap="butt"/>
<line x1="1556.15" y1="1164.2" x2="1885.3" y2="1164.2" stroke="#222222" stroke-width="1.5" stroke-linecap="butt"/>
<line x1="1571.9" y1="1164.2" x2="1571.9" y2="1167.2" stroke="#333" stroke-width="1.1" stroke-linecap="butt"/>
<text transform="translate(1571.9 1179.1) scale(1 1.07)" font-size="13.2" fill="#4d4d4d" stroke="#4d4d4d" stroke-width="0.25" text-anchor="middle">0%</text>
<line x1="1646.5" y1="1164.2" x2="1646.5" y2="1167.2" stroke="#333" stroke-width="1.1" stroke-linecap="butt"/>
<text transform="translate(1646.5 1179.1) scale(1 1.07)" font-size="13.2" fill="#4d4d4d" stroke="#4d4d4d" stroke-width="0.25" text-anchor="middle">25%</text>
<line x1="1721.1" y1="1164.2" x2="1721.1" y2="1167.2" stroke="#333" stroke-width="1.1" stroke-linecap="butt"/>
<text transform="translate(1721.1 1179.1) scale(1 1.07)" font-size="13.2" fill="#4d4d4d" stroke="#4d4d4d" stroke-width="0.25" text-anchor="middle">50%</text>
<line x1="1795.7" y1="1164.2" x2="1795.7" y2="1167.2" stroke="#333" stroke-width="1.1" stroke-linecap="butt"/>
<text transform="translate(1795.7 1179.1) scale(1 1.07)" font-size="13.2" fill="#4d4d4d" stroke="#4d4d4d" stroke-width="0.25" text-anchor="middle">75%</text>
<line x1="1870.3" y1="1164.2" x2="1870.3" y2="1167.2" stroke="#333" stroke-width="1.1" stroke-linecap="butt"/>
<text transform="translate(1870.3 1179.1) scale(1 1.07)" font-size="13.2" fill="#4d4d4d" stroke="#4d4d4d" stroke-width="0.25" text-anchor="middle">100%</text>
<rect x="1659.2" y="1220.3" width="17.6" height="17.8" fill="#ffa600"/>
<text transform="translate(1684.2 1234.9) scale(1 1.03)" font-size="16.75" fill="#000" stroke="#000" stroke-width="0.25">MDR</text>
<rect x="1748" y="1220.3" width="17.8" height="17.8" fill="#003f5c"/>
<text transform="translate(1773.3 1234.9) scale(1 1.03)" font-size="16.75" fill="#000" stroke="#000" stroke-width="0.25">Not MDR</text>
</svg>
</body></html>
